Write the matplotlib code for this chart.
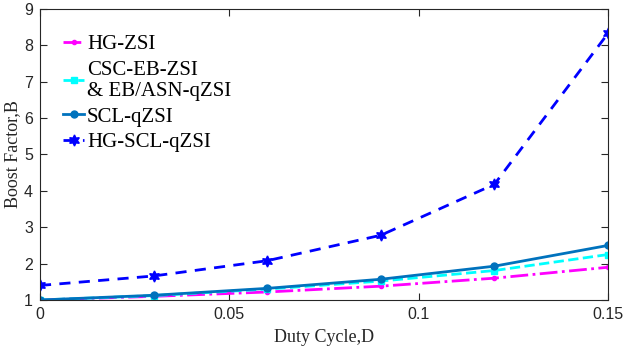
import matplotlib
matplotlib.use("Agg")
import matplotlib.pyplot as plt

duty = [0, 0.03, 0.06, 0.09, 0.12, 0.15]
hg_zsi = [1.0, 1.10, 1.22, 1.38, 1.60, 1.90]
csc_eb = [1.0, 1.12, 1.30, 1.52, 1.81, 2.25]
scl_qzsi = [1.0, 1.13, 1.32, 1.57, 1.93, 2.50]
hg_scl_qzsi = [1.40, 1.66, 2.08, 2.78, 4.18, 8.33]

labels = ["HG-ZSI", "CSC-EB-ZSI\n& EB/ASN-qZSI", "SCL-qZSI", "HG-SCL-qZSI"]
xticks = [0, 0.05, 0.1, 0.15]
yticks = [1, 2, 3, 4, 5, 6, 7, 8, 9]

fig = plt.figure(figsize=(6.23, 3.51), dpi=100)
ax = fig.add_axes([40/623, 1 - 300/351, (608-40)/623, (300-9)/351])

ax.plot(duty, hg_zsi, color="#FF00FF", linestyle="-.", linewidth=2, marker=".", markersize=6, label=labels[0])
ax.plot(duty, csc_eb, color="#00FFFF", linestyle="--", linewidth=2, marker="s", markersize=5, label=labels[1])
ax.plot(duty, scl_qzsi, color="#0072BD", linestyle="-", linewidth=2, marker="o", markersize=5, label=labels[2])
ax.plot(duty, hg_scl_qzsi, color="#0000FF", linestyle="--", linewidth=2, dashes=(4, 3), marker=(6, 1, 0), markersize=8, label=labels[3])

ax.set_xlim(0, 0.15)
ax.set_ylim(1, 9)
ax.set_xticks(xticks)
ax.set_xticklabels(["0", "0.05", "0.1", "0.15"])
ax.set_yticks(yticks)
ax.tick_params(direction="in", top=True, right=True, labelsize=11.5, colors="#262626", length=5, pad=5)
for lab in ax.get_xticklabels() + ax.get_yticklabels():
    lab.set_family("Liberation Sans")
for s in ax.spines.values():
    s.set_color("#262626")
    s.set_linewidth(0.8)

ax.set_xlabel("Duty Cycle,D", family="Liberation Serif", fontsize=13, color="#262626", labelpad=5)
ax.set_ylabel("Boost Factor,B", family="Liberation Serif", fontsize=13, color="#262626", labelpad=2)

leg = ax.legend(loc="upper left", bbox_to_anchor=(0.026, 0.94), frameon=False,
                prop={"family": "Liberation Serif", "size": 15},
                handlelength=1.0, handletextpad=0.15, labelspacing=0.3, borderaxespad=0)
for t in leg.get_texts():
    t.set_linespacing(1.15)

fig.savefig("out.png", dpi=100)
